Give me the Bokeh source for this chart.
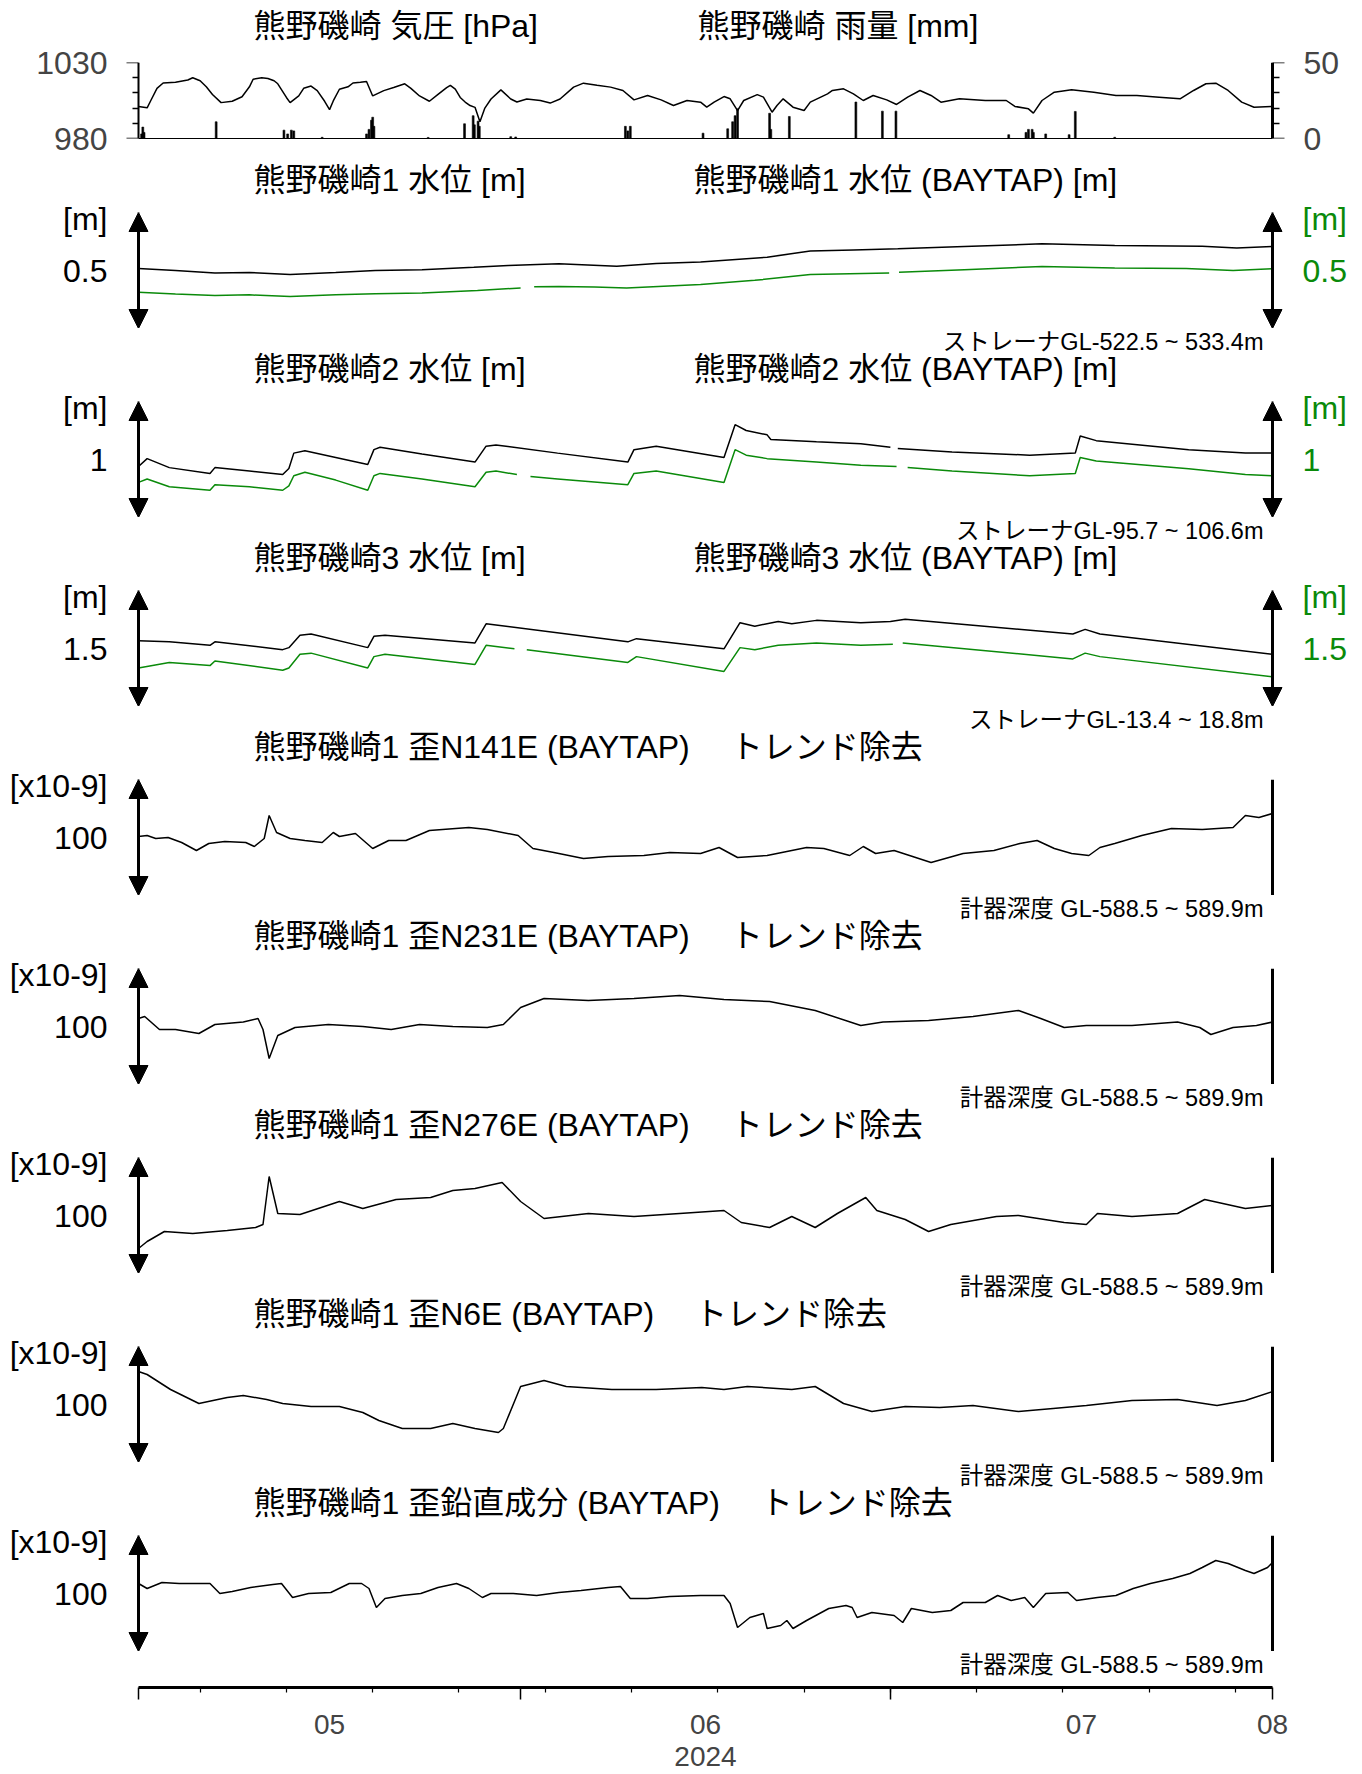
import numpy as np
from bokeh.plotting import figure
from bokeh.layouts import column
from bokeh.models import (Range1d, LinearAxis, FixedTicker, Arrow, NormalHead, Label,
                          DatetimeTickFormatter, CustomJSTickFormatter)
from bokeh.embed import file_html
from bokeh.resources import INLINE

NAN = float("nan")

# ---------------- time axis (days since 2024-05-01 00:00 UTC) ----------------
month_start_day = [0, 31, 61, 92]
month_label_day = [15.5, 46, 76.5, 92]
week_tick_day = [5, 12, 19, 26, 33, 40, 47, 54, 61, 68, 75, 82, 89]
year_label = "2024"

# ---------------- pressure [hPa] / rain [mm] ----------------
pres_ticks, pres_minor = [980, 1030], [990, 1000, 1010, 1020]
rain_ticks, rain_minor = [0, 50], [10, 20, 30, 40]
pres_day = [0, 0.7, 1.0, 1.5, 2, 3, 4, 4.4, 5, 5.5,
            6, 6.7, 7.6, 8.4, 9, 9.3, 10, 10.5, 11, 11.3,
            12, 12.3, 13, 13.4, 14, 14.5, 15.1, 15.5, 15.8, 16.3,
            17, 17.4, 18, 18.5, 19, 19.9, 20.7, 21.6, 22.1, 22.8,
            23.6, 24.3, 25.0, 25.3, 25.7, 26.1, 26.5, 26.9, 27.3, 27.7,
            28.1, 28.6, 29.4, 30.2, 30.7, 31.5, 32.6, 33.4, 34.2, 35.3,
            36.1, 37.2, 38.3, 39.3, 40.2, 41.3, 42.4, 43.4, 44.5, 45.6,
            46.1, 46.7, 47.5, 48.0, 48.6, 49.1, 50.2, 50.7, 51.4, 51.8,
            52.3, 53.1, 54.0, 54.5, 55.9, 56.3, 57.2, 58.0, 58.8, 59.6,
            60.7, 61.5, 62.4, 63.4, 64.3, 65.1, 66.6, 68.7, 70.4, 71.1,
            72.2, 72.6, 73.3, 74.3, 75.7, 77.5, 79.3, 81.0, 82.8, 84.5,
            85.6, 86.6, 87.4, 88.4, 89.5, 90.5, 91.9, 92]
pres_hpa = [1001, 1000.2, 1005, 1013, 1016.5, 1017, 1018.5, 1020, 1018, 1014,
            1009, 1003.6, 1004.5, 1007.5, 1014, 1019, 1020, 1019.5, 1018, 1016,
            1007, 1003.6, 1008, 1013, 1014.5, 1011.5, 1004.5, 999, 1004.7, 1012.4,
            1014, 1016.5, 1017, 1017.5, 1008, 1011.5, 1013.5, 1016, 1013, 1008,
            1004.5, 1009, 1013.5, 1015, 1012.5, 1007, 1004, 1001.7, 1000.5, 991,
            1000, 1006, 1012, 1006, 1004, 1006, 1005, 1003.3, 1006, 1013.8,
            1016.4, 1015, 1013.8, 1011.6, 1005.4, 1008.3, 1005.4, 1001.7, 1005, 1003.9,
            1000.6, 1003.9, 1007.6, 1006.1, 998.4, 1005, 1008.9, 1007.2, 997.3, 1001.7,
            1006.1, 1000.6, 998.4, 1003.9, 1009.4, 1011.6, 1012.7, 1009.4, 1005.0, 1008.3,
            1005.4, 1002.4, 1007.2, 1011.6, 1008.3, 1003.9, 1006.1, 1005, 1005, 1001.1,
            999.5, 996.7, 1005, 1010.5, 1012, 1010.5, 1008.3, 1008.3, 1007.2, 1006.1,
            1011.6, 1016, 1016.4, 1011.6, 1003.9, 1000.6, 1001.1, 1001]
rain_day = [0.25, 0.35, 0.45, 6.3, 11.8, 12.1, 12.4, 12.6, 14.9, 18.5,
            18.7, 18.9, 19.0, 19.1, 23.5, 26.45, 27.15, 27.25, 27.55, 27.65,
            30.2, 30.6, 39.5, 39.7, 39.9, 45.8, 47.8, 48.2, 48.4, 48.6,
            51.2, 51.3, 52.8, 58.2, 60.35, 61.45, 70.6, 72.0, 72.2, 72.5,
            72.6, 73.6, 75.5, 76.0, 79.2]
rain_mm = [3, 7.5, 4, 11, 5.5, 3, 5.5, 5, 0.8, 3,
           6, 12, 14, 8, 0.7, 9.7, 15, 9, 11.4, 8,
           1.2, 1.0, 8, 5, 8, 3.5, 6.4, 11, 15, 19.5,
           16.6, 6, 14.5, 24, 18, 18, 2.5, 4, 6, 6,
           4, 3, 2.5, 17.8, 0.8]

# ---------------- water level 1 [m] ----------------
w1_day = [0, 3, 6.2, 9, 12.3, 16, 19.2, 23, 27.2, 30, 34.1, 38.8, 42, 45.6, 51, 54.5,
          58, 61.6, 67, 73.3, 79.2, 86.3, 89.1, 92]
w1_obs = [0.507, 0.500, 0.491, 0.493, 0.486, 0.493, 0.500, 0.503, 0.511, 0.517, 0.523,
          0.515, 0.524, 0.529, 0.546, 0.567, 0.571, 0.575, 0.583, 0.592, 0.586, 0.584,
          0.578, 0.583]
w1b_day = [0, 3, 6.2, 9, 12.3, 16, 19.2, 23, 27.5, 31.0, 31.5, 32.1, 34.1, 37, 39.6,
           45.6, 50, 54.5, 60.9, 61.3, 61.7, 67, 73.3, 79.2, 85, 88.8, 92]
w1_bay = [0.425, 0.419, 0.414, 0.416, 0.410, 0.416, 0.420, 0.422, 0.431, 0.440, NAN,
          0.444, 0.445, 0.443, 0.440, 0.452, 0.466, 0.486, 0.491, NAN, 0.494, 0.503,
          0.514, 0.509, 0.507, 0.500, 0.506]

# ---------------- water level 2 [m] ----------------
w2_day = [0, 0.7, 2.5, 5.8, 6.2, 9, 11.7, 12.2, 12.6, 13.5,
          16, 18.6, 19.1, 19.6, 23, 27.3, 28.2, 29, 34, 39.7,
          40.2, 42, 47.5, 48.4, 49.3, 51, 51.3, 55, 58.6, 61.0,
          61.3, 61.6, 66, 72.3, 76, 76.4, 77.7, 85.2, 89.8, 92]
w2_obs = [0.976, 1.003, 0.972, 0.952, 0.972, 0.960, 0.948, 0.969, 1.022, 1.030,
          1.007, 0.983, 1.034, 1.042, 1.019, 0.991, 1.046, 1.050, 1.022, 0.991,
          1.034, 1.046, 1.007, 1.120, 1.100, 1.085, 1.069, 1.061, 1.054, 1.042,
          NAN, 1.038, 1.026, 1.015, 1.022, 1.081, 1.065, 1.034, 1.022, 1.022]
w2b_day = [0, 0.7, 2.5, 5.8, 6.2, 9, 11.7, 12.2, 12.6, 13.5,
           16, 18.6, 19.1, 19.6, 23, 27.3, 28.2, 29, 30.7, 31.2,
           31.8, 34, 39.7, 40.2, 42, 47.5, 48.4, 49.3, 51, 55,
           58.6, 61.5, 61.9, 62.4, 66, 72.3, 76, 76.4, 77.7, 85.2,
           89.8, 92]
w2_bay = [0.921, 0.933, 0.906, 0.894, 0.913, 0.906, 0.894, 0.909, 0.944, 0.956,
          0.929, 0.894, 0.944, 0.952, 0.933, 0.906, 0.956, 0.960, 0.948, NAN,
          0.941, 0.933, 0.913, 0.952, 0.960, 0.921, 1.034, 1.015, 1.003, 0.991,
          0.980, 0.976, NAN, 0.972, 0.960, 0.944, 0.952, 1.007, 0.995, 0.968,
          0.948, 0.944]

# ---------------- water level 3 [m] ----------------
w3_day = [0, 2.5, 5.8, 6.2, 11.7, 12.2, 13.1, 14, 18.6, 19.1,
          20, 27.3, 28.2, 29, 39.7, 40.4, 47.5, 48.8, 50, 51.9,
          53, 55, 58.6, 61, 62.2, 75.8, 76.8, 78, 92]
w3_obs = [1.527, 1.523, 1.511, 1.523, 1.496, 1.503, 1.546, 1.550, 1.503, 1.542,
          1.546, 1.519, 1.585, 1.581, 1.523, 1.534, 1.499, 1.589, 1.577, 1.593,
          1.585, 1.597, 1.589, 1.593, 1.601, 1.550, 1.566, 1.550, 1.480]
w3b_day = [0, 2.5, 5.8, 6.2, 11.7, 12.2, 13.1, 14, 18.6, 19.1,
           20, 27.3, 28.2, 29, 30.5, 31.0, 31.5, 39.7, 40.4, 47.5,
           48.8, 50, 51.9, 55, 58.6, 61.2, 61.6, 62.0, 75.8, 76.8,
           78, 92]
w3_bay = [1.433, 1.452, 1.441, 1.457, 1.425, 1.433, 1.480, 1.484, 1.433, 1.472,
          1.480, 1.445, 1.511, 1.507, 1.499, NAN, 1.496, 1.452, 1.472, 1.421,
          1.503, 1.496, 1.511, 1.519, 1.511, 1.515, NAN, 1.519, 1.464, 1.484,
          1.472, 1.402]

# ---------------- strain (BAYTAP, detrended) [x10-9] ----------------
s141_day = [0, 0.7, 1.4, 2.4, 3.5, 4.7, 5.7, 7, 8.7, 9.4,
            10.2, 10.6, 11.2, 12.3, 13.5, 14.9, 15.8, 16.3, 17.6, 19.0,
            20.3, 21.7, 23.6, 26.8, 28.3, 30.8, 32.0, 33.7, 36.1, 38.1,
            41.0, 43.1, 45.6, 47.1, 48.6, 51.0, 54.2, 55.6, 57.7, 58.8,
            59.8, 61.3, 64.3, 66.9, 69.4, 71.5, 72.9, 74.3, 75.7, 77.1,
            78.0, 79.2, 81.4, 83.8, 86.3, 88.8, 89.8, 90.9, 92]
s141 = [101, 102, 99, 100, 95, 87, 94, 96, 95, 91,
        99, 122, 105, 99, 97, 95, 105, 101, 104, 89,
        97, 97, 107, 110, 108, 102, 89, 85, 79, 81,
        82, 85, 84, 90, 80, 82, 90, 89, 82, 91,
        84, 87, 75, 84, 87, 94, 97, 89, 84, 82,
        90, 94, 102, 109, 108, 110, 122, 120, 124]
s231_day = [0, 0.5, 1.7, 3, 4.9, 6.2, 8.5, 9.7, 10.1, 10.6,
            11.3, 12.7, 15.4, 18.2, 20.5, 22.8, 25.5, 28.3, 29.6, 31,
            32.9, 36.5, 40.2, 43.9, 47.5, 51.2, 54.9, 58.6, 60.4, 64.1,
            67.7, 71.4, 73.2, 75.1, 76.9, 80.6, 84.3, 86.1, 87, 88.8,
            90.7, 92]
s231 = [108, 110, 97, 97, 93, 102, 104.5, 108, 97, 68,
        91, 99, 102, 100, 97, 102, 100, 99, 102, 119,
        128, 126, 128, 131, 127, 125, 116, 101, 104.5, 106,
        110, 116, 108, 99, 101, 101, 104.5, 99, 92, 99,
        101, 104.5]
s276_day = [0, 0.7, 2.1, 4.4, 7.2, 9.5, 10.1, 10.6, 11.3, 13.1,
            16.3, 18.2, 20.9, 23.7, 25.5, 27.3, 29.5, 31, 32.9, 36.5,
            40.2, 43.9, 47.5, 48.9, 51.2, 53, 54.9, 56.7, 59, 59.9,
            62.2, 64.1, 65.9, 69.6, 71.4, 75.1, 76.9, 77.8, 80.6, 84.3,
            86.5, 89.8, 92]
s276 = [67, 74, 84, 82, 85, 88, 91, 139, 102, 101,
        114, 107, 116, 118, 125, 127, 133, 114, 97, 102,
        99, 102, 105, 93, 88, 99, 88, 102, 118, 105,
        96, 84, 91, 99, 100, 93, 91, 102, 99, 102,
        116, 107, 110]
s6_day = [0, 0.7, 2.6, 4.9, 7.2, 8.5, 10.4, 11.7, 14, 16.3,
          18.2, 19.5, 21.4, 23.7, 25.5, 27.3, 29.2, 29.6, 31, 32.9,
          34.7, 38.4, 42, 45.7, 47.5, 49.4, 53, 54.9, 57.2, 59.5,
          62.2, 65, 67.7, 71.4, 74.2, 76.9, 80.6, 84.3, 87.5, 89.8,
          92]
s6 = [133, 130, 115, 101, 107, 109, 105, 101, 98, 98,
      92, 84, 76, 76, 81, 76, 72, 76, 118, 124,
      118, 115, 115, 117, 115, 118, 115, 118, 101, 93,
      98, 97, 99, 93, 96, 99, 104, 105, 99, 104,
      113]
sv_day = [0, 0.7, 1.9, 3.3, 5.8, 6.6, 7.6, 9.1, 10.9, 11.6,
          12.5, 13.8, 15.6, 17.1, 18.1, 18.7, 19.3, 20.0, 21.4, 22.9,
          24.3, 25.8, 26.8, 27.9, 28.6, 30.4, 32.3, 34.1, 35.9, 38.1,
          39.1, 39.9, 41.3, 43.1, 45.6, 47.5, 48.0, 48.6, 49.6, 50.7,
          51.0, 52.1, 52.6, 53.1, 54.2, 56.0, 57.4, 57.9, 58.3, 59.5,
          61.3, 62.0, 62.7, 64.4, 65.9, 66.9, 68.7, 69.7, 70.8, 71.9,
          72.6, 73.6, 75.4, 76.1, 77.8, 79.3, 80.7, 82.1, 83.9, 85.3,
          86.3, 87.4, 88.4, 89.8, 90.5, 91.6, 92]
sv = [110, 105, 111, 110, 110, 100, 102, 106, 109, 110,
      96, 100, 101, 110, 110, 105, 86, 95, 98, 100,
      106, 110, 105, 96, 100, 100, 98, 101, 103, 106,
      107, 95, 95, 97, 98, 98, 90, 66, 76, 80,
      65, 68, 73, 65, 73, 85, 88, 86, 76, 81,
      78, 71, 85, 81, 83, 91, 91, 98, 93, 96,
      86, 100, 101, 93, 96, 98, 105, 110, 115, 120,
      126, 133, 130, 123, 120, 126, 131]

# ---------------- panel texts ----------------
pres_title, rain_title = "熊野磯崎 気圧 [hPa]", "熊野磯崎 雨量 [mm]"
water_panels = [
    dict(left="熊野磯崎1 水位 [m]", right="熊野磯崎1 水位 (BAYTAP) [m]",
         note="ストレーナGL-522.5 ~ 533.4m", tick=0.5, half=0.2, unit="[m]",
         obs=(w1_day, w1_obs), bay=(w1b_day, w1_bay)),
    dict(left="熊野磯崎2 水位 [m]", right="熊野磯崎2 水位 (BAYTAP) [m]",
         note="ストレーナGL-95.7 ~ 106.6m", tick=1, half=0.2, unit="[m]",
         obs=(w2_day, w2_obs), bay=(w2b_day, w2_bay)),
    dict(left="熊野磯崎3 水位 [m]", right="熊野磯崎3 水位 (BAYTAP) [m]",
         note="ストレーナGL-13.4 ~ 18.8m", tick=1.5, half=0.2, unit="[m]",
         obs=(w3_day, w3_obs), bay=(w3b_day, w3_bay)),
]
strain_note = "計器深度 GL-588.5 ~ 589.9m"
strain_unit = "[x10-9]"
strain_panels = [
    dict(title="熊野磯崎1 歪N141E (BAYTAP) \u3000トレンド除去", data=(s141_day, s141)),
    dict(title="熊野磯崎1 歪N231E (BAYTAP) \u3000トレンド除去", data=(s231_day, s231)),
    dict(title="熊野磯崎1 歪N276E (BAYTAP) \u3000トレンド除去", data=(s276_day, s276)),
    dict(title="熊野磯崎1 歪N6E (BAYTAP) \u3000トレンド除去", data=(s6_day, s6)),
    dict(title="熊野磯崎1 歪鉛直成分 (BAYTAP) \u3000トレンド除去", data=(sv_day, sv)),
]
strain_tick, strain_half = 100, 58

# ---------------- helpers ----------------
DAY = 86400000
T0 = 1714521600000  # 2024-05-01 00:00 UTC
T_END = T0 + month_start_day[-1] * DAY
W = 1362
PX_DAY = 1134 / month_start_day[-1]
PAD = 12 / PX_DAY
ARROW_H = 116
GREEN = "#0a8a0a"
TXT_FONT = "Liberation Sans, Noto Sans CJK JP"
NUM_FONT = "Liberation Sans"
BL, BR = 126, 78          # borders around the (padded) frame, same for all figures
X_LEFT_TITLE = 127        # title starts, measured from the frame's left edge
X_RIGHT_TITLE = 567
X_NOTE = 1137             # right end of the depth notes


def ms(days):
    return T0 + np.asarray(days, dtype=float) * DAY


def padded_xr():
    return Range1d(T0 - PAD * DAY, T_END + PAD * DAY)


def new_fig(height, top, bottom, yr):
    return figure(width=W, height=height, x_range=padded_xr(), y_range=yr,
                  x_axis_type=None, y_axis_type=None, toolbar_location=None,
                  output_backend="svg", min_border_left=BL, min_border_right=BR,
                  min_border_top=top, min_border_bottom=bottom, outline_line_color=None)


def strip(height, items):
    s = new_fig(height, 0, 0, Range1d(0, height))
    for x, y, txt, size, align in items:
        s.add_layout(Label(x=x, y=y, x_units="screen", y_units="screen", text=txt,
                           text_font=TXT_FONT, text_font_size=f"{size}px",
                           text_align=align, text_baseline="middle", text_color="black"))
    return s


def value_axis(tick, unit, unit_pos, color, standoff, range_name="default"):
    thr = (tick + unit_pos) / 2
    code = "return tick > %r ? %r : %r;" % (thr, unit, ("%g" % tick))
    ax = LinearAxis(ticker=FixedTicker(ticks=[tick, unit_pos], minor_ticks=[]),
                    formatter=CustomJSTickFormatter(code=code), y_range_name=range_name)
    ax.axis_line_color = None
    ax.major_tick_line_color = None
    ax.minor_tick_line_color = None
    ax.major_tick_out = 0
    ax.major_tick_in = 0
    ax.major_label_standoff = standoff
    ax.major_label_text_font = NUM_FONT
    ax.major_label_text_font_size = "32px"
    ax.major_label_text_color = color
    return ax


def label_axis(ticks, standoff, range_name="default"):
    ax = LinearAxis(ticker=FixedTicker(ticks=ticks, minor_ticks=[]), y_range_name=range_name)
    ax.axis_line_color = None
    ax.major_tick_line_color = None
    ax.minor_tick_line_color = None
    ax.major_tick_out = 0
    ax.major_tick_in = 0
    ax.major_label_standoff = standoff
    ax.major_label_text_font = NUM_FONT
    ax.major_label_text_font_size = "32px"
    return ax


def line_axis(ticks, minor, loc, width, major_len, minor_len, range_name="default"):
    ax = LinearAxis(ticker=FixedTicker(ticks=ticks, minor_ticks=minor),
                    formatter=CustomJSTickFormatter(code="return '';"),
                    y_range_name=range_name)
    ax.fixed_location = loc
    ax.axis_line_width = width
    ax.major_tick_out, ax.major_tick_in = major_len, 0
    ax.minor_tick_out, ax.minor_tick_in = minor_len, 0
    ax.major_tick_line_width = 1.5
    ax.minor_tick_line_width = 1.5
    ax.major_label_standoff = 0
    ax.major_label_text_font_size = "1px"
    return ax


def arrow(p, x, lo, hi, range_name="default"):
    p.add_layout(Arrow(x_start=x, y_start=lo, x_end=x, y_end=hi,
                       start=NormalHead(size=19, fill_color="black", line_color="black"),
                       end=NormalHead(size=19, fill_color="black", line_color="black"),
                       line_width=3, line_color="black", y_range_name=range_name))


figs = []

# ---------------- title strip + panel 1: pressure + rain ----------------
figs.append(strip(44, [(X_LEFT_TITLE, 19, pres_title, 32, "left"),
                       (X_RIGHT_TITLE + 4, 19, rain_title, 32, "left")]))
p1 = new_fig(112, 18, 18, Range1d(pres_ticks[0], pres_ticks[-1]))
p1.extra_y_ranges = {"rain": Range1d(rain_ticks[0], rain_ticks[-1])}
p1.vbar(x=ms(rain_day), top=rain_mm, bottom=0, width=0.15 * DAY, y_range_name="rain",
        fill_color="black", line_color="black", line_width=0.6)
p1.line(ms(pres_day), pres_hpa, line_color="black", line_width=1.5)
p1.add_layout(label_axis(pres_ticks, 19), "left")
p1.add_layout(line_axis(pres_ticks, pres_minor, T0, 2, 13, 6), "left")
p1.add_layout(label_axis(rain_ticks, 19, "rain"), "right")
p1.add_layout(line_axis(rain_ticks, rain_minor, T_END, 3, 14, 7, "rain"), "right")
axb = LinearAxis(ticker=FixedTicker(ticks=[], minor_ticks=[]))
axb.bounds = (T0, T_END)
axb.axis_line_width = 1
axb.major_tick_out = 0
axb.major_label_standoff = 0
p1.add_layout(axb, "below")
figs.append(p1)

# ---------------- data panels with the text strips between them ----------------
def data_panel_water(wp):
    lo, hi = wp["tick"] - wp["half"], wp["tick"] + wp["half"]
    p = new_fig(130, 14, 0, Range1d(lo, hi))
    p.extra_y_ranges = {"bay": Range1d(lo, hi)}
    d, v = wp["obs"]
    p.line(ms(d), np.array(v, dtype=float), line_color="black", line_width=1.5)
    d, v = wp["bay"]
    p.line(ms(d), np.array(v, dtype=float), line_color=GREEN, line_width=1.5,
           y_range_name="bay")
    arrow(p, T0, lo, hi)
    arrow(p, T_END, lo, hi, "bay")
    unit_pos = hi - 6 * (hi - lo) / ARROW_H
    p.add_layout(value_axis(wp["tick"], wp["unit"], unit_pos, "black", 19), "left")
    p.add_layout(value_axis(wp["tick"], wp["unit"], unit_pos, GREEN, 18, "bay"), "right")
    return p


def data_panel_strain(sp):
    lo, hi = strain_tick - strain_half, strain_tick + strain_half
    p = new_fig(130, 14, 0, Range1d(lo, hi))
    d, v = sp["data"]
    p.line(ms(d), v, line_color="black", line_width=1.5)
    arrow(p, T0, lo, hi)
    p.segment(x0=[T_END], y0=[lo], x1=[T_END], y1=[hi], line_color="black", line_width=3)
    unit_pos = hi - 6 * (hi - lo) / ARROW_H
    p.add_layout(value_axis(strain_tick, strain_unit, unit_pos, "black", 19), "left")
    return p


entries = []
for wp in water_panels:
    entries.append(([(X_LEFT_TITLE, wp["left"]), (X_RIGHT_TITLE, wp["right"])],
                    wp["note"], data_panel_water(wp)))
for sp in strain_panels:
    entries.append(([(X_LEFT_TITLE, sp["title"])], strain_note, data_panel_strain(sp)))

prev_note = None
for titles, note, panel in entries:
    h = 42 if prev_note is None else 59
    items = [(x, 19, t, 32, "left") for x, t in titles]
    if prev_note is not None:
        items.append((X_NOTE, h - 13, prev_note, 23.5, "right"))
    figs.append(strip(h, items))
    figs.append(panel)
    prev_note = note
figs.append(strip(31, [(X_NOTE, 18, prev_note, 23.5, "right")]))

# ---------------- bottom time axis ----------------
pa = new_fig(91, 5, 74, Range1d(0, 1))
ax_ticks = LinearAxis(ticker=FixedTicker(ticks=list(ms(month_start_day)),
                                         minor_ticks=list(ms(week_tick_day))),
                      formatter=CustomJSTickFormatter(code="return '';"))
ax_ticks.bounds = (T0, T_END)
ax_ticks.axis_line_width = 3
ax_ticks.major_tick_in, ax_ticks.major_tick_out = 12, 0
ax_ticks.minor_tick_in, ax_ticks.minor_tick_out = 5, 0
ax_ticks.major_tick_line_width = 1.5
ax_ticks.minor_tick_line_width = 1.2
ax_ticks.major_label_standoff = 0
ax_ticks.major_label_text_font_size = "1px"
pa.add_layout(ax_ticks, "above")
fmt = DatetimeTickFormatter(microseconds="%m", milliseconds="%m", seconds="%m",
                            minsec="%m", minutes="%m", hourmin="%m", hours="%m",
                            days="%m", months="%m", years="%m")
ax_lab = LinearAxis(ticker=FixedTicker(ticks=list(ms(month_label_day)), minor_ticks=[]),
                    formatter=fmt)
ax_lab.axis_line_color = None
ax_lab.major_tick_line_color = None
ax_lab.major_tick_in = 0
ax_lab.major_tick_out = 0
ax_lab.major_label_standoff = 15
ax_lab.major_label_text_font = NUM_FONT
ax_lab.major_label_text_font_size = "28px"
ax_lab.axis_label = year_label
ax_lab.axis_label_text_font = NUM_FONT
ax_lab.axis_label_text_font_size = "28px"
ax_lab.axis_label_text_font_style = "normal"
ax_lab.axis_label_standoff = 10
pa.add_layout(ax_lab, "below")
figs.append(pa)

layout = column(*figs, spacing=0)
open("out.html", "w").write(file_html(layout, INLINE))
